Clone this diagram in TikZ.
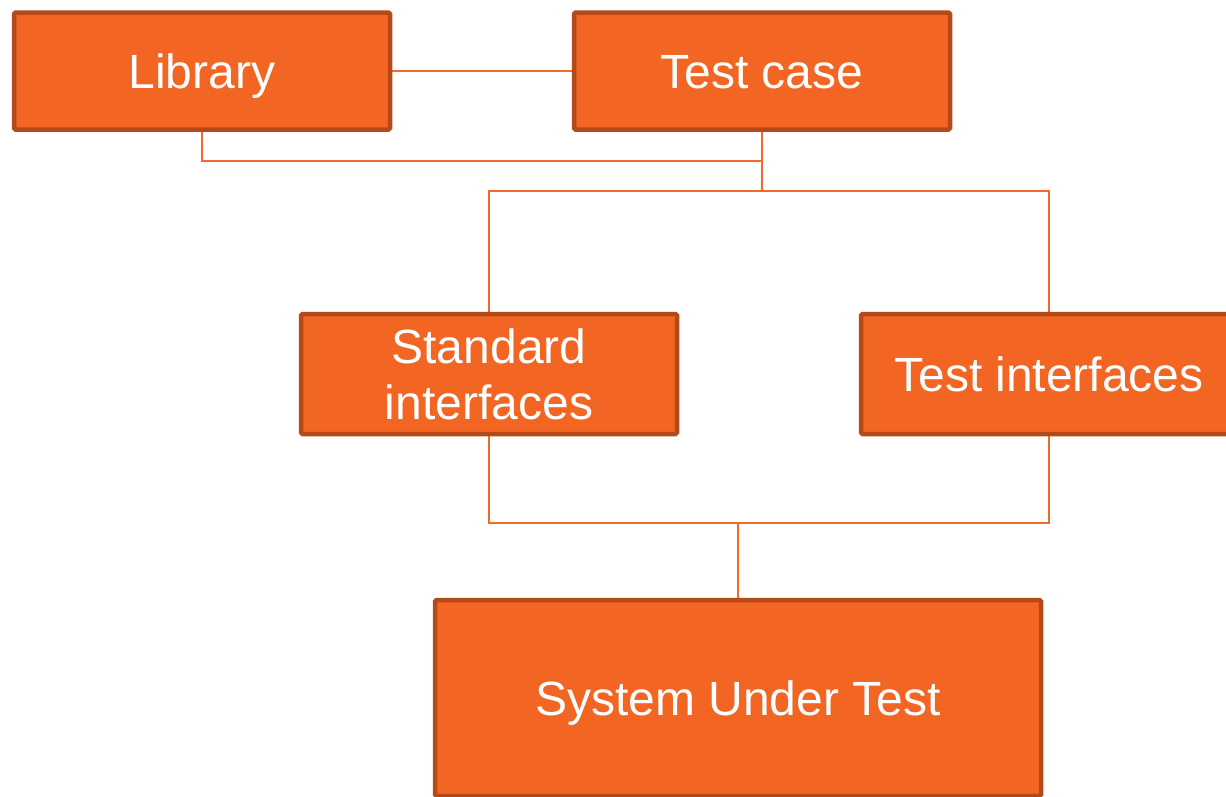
\documentclass[tikz,border=0pt]{standalone}
\usepackage{fontspec}
\setmainfont{Liberation Sans}
\usetikzlibrary{backgrounds}
\definecolor{boxfill}{HTML}{F26522}
\definecolor{boxedge}{HTML}{B54A19}
\definecolor{wire}{HTML}{F2692A}
\tikzset{
  block/.style={draw=boxedge, fill=boxfill, line width=4.5pt, rounded corners=1.5pt,
    text=white, font=\fontsize{48}{56}\selectfont, align=center, inner sep=0pt},
  oneline/.style={text height=34.5pt, text depth=0pt},
  wirestyle/.style={draw=wire, line width=2pt}
}
\begin{document}
\begin{tikzpicture}[x=1pt, y=-1pt]
\useasboundingbox (0,0) rectangle (1226,796);
% top row
\node[block, oneline, minimum width=376pt, minimum height=117pt] (lib) at (202,71) {Library};
\node[block, oneline, minimum width=376pt, minimum height=117pt] (tc)  at (762,71) {Test case};
% interface layer
\node[block, minimum width=376pt, minimum height=120pt] (std) at (489,374) {Standard\\interfaces};
\node[block, oneline, minimum width=376pt, minimum height=120pt] (ti)  at (1049,374) {Test interfaces};
% system under test
\node[block, oneline, minimum width=606pt, minimum height=196pt] (sut) at (738,698) {System Under Test};
% junction points of the wiring
\coordinate (libjoin) at (762,161);
\coordinate (topbus)  at (762,191);
\coordinate (lowbus)  at (738,523);
\begin{pgfonlayer}{background}
  \draw[wirestyle] (lib.east) -- (tc.west);
  \draw[wirestyle] (lib.south) |- (libjoin);
  \draw[wirestyle] (tc.south) -- (topbus);
  \draw[wirestyle] (std.north) -- (std.north |- topbus) -- (ti.north |- topbus) -- (ti.north);
  \draw[wirestyle] (std.south) -- (std.south |- lowbus) -- (ti.south |- lowbus) -- (ti.south);
  \draw[wirestyle] (lowbus) -- (sut.north);
\end{pgfonlayer}
\end{tikzpicture}
\end{document}
